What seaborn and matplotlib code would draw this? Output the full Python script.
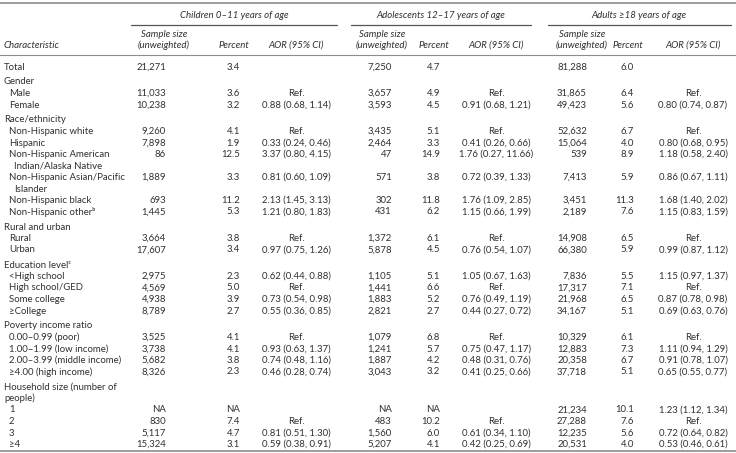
import matplotlib
matplotlib.use("Agg")
import matplotlib.pyplot as plt
import seaborn as sns

sns.set_theme(style="white")
plt.rcParams["font.family"] = ["Lato", "DejaVu Sans"]

groups = ["Children 0–11 years of age", "Adolescents 12–17 years of age", "Adults ≥18 years of age"]
col_heads = ["Sample size\n(unweighted)", "Percent", "AOR (95% CI)"]

labels = [
    "Total", "Gender", "Male", "Female", "Race/ethnicity", "Non-Hispanic white", "Hispanic",
    "Non-Hispanic American\nIndian/Alaska Native", "Non-Hispanic Asian/Pacific\nIslander",
    "Non-Hispanic black", "Non-Hispanic other\u1d47", "Rural and urban", "Rural", "Urban",
    "Education level\u1d9c", "<High school", "High school/GED", "Some college", "≥College",
    "Poverty income ratio", "0.00–0.99 (poor)", "1.00–1.99 (low income)",
    "2.00–3.99 (middle income)", "≥4.00 (high income)", "Household size (number of\npeople)",
    "1", "2", "3", "≥4",
]
levels = [0, 0, 1, 1, 0, 1, 1, 1, 1, 1, 1, 0, 1, 1, 0, 1, 1, 1, 1, 0, 1, 1, 1, 1, 0, 1, 1, 1, 1]

child_n = ["21,271", "", "11,033", "10,238", "", "9,260", "7,898", "86", "1,889", "693", "1,445", "",
           "3,664", "17,607", "", "2,975", "4,569", "4,938", "8,789", "", "3,525", "3,738", "5,682",
           "8,326", "", "NA", "830", "5,117", "15,324"]
child_pct = ["3.4", "", "3.6", "3.2", "", "4.1", "1.9", "12.5", "3.3", "11.2", "5.3", "", "3.8", "3.4",
             "", "2.3", "5.0", "3.9", "2.7", "", "4.1", "4.1", "3.8", "2.3", "", "NA", "7.4", "4.7", "3.1"]
child_aor = ["", "", "Ref.", "0.88 (0.68, 1.14)", "", "Ref.", "0.33 (0.24, 0.46)", "3.37 (0.80, 4.15)",
             "0.81 (0.60, 1.09)", "2.13 (1.45, 3.13)", "1.21 (0.80, 1.83)", "", "Ref.",
             "0.97 (0.75, 1.26)", "", "0.62 (0.44, 0.88)", "Ref.", "0.73 (0.54, 0.98)",
             "0.55 (0.36, 0.85)", "", "Ref.", "0.93 (0.63, 1.37)", "0.74 (0.48, 1.16)",
             "0.46 (0.28, 0.74)", "", "", "Ref.", "0.81 (0.51, 1.30)", "0.59 (0.38, 0.91)"]

adol_n = ["7,250", "", "3,657", "3,593", "", "3,435", "2,464", "47", "571", "302", "431", "", "1,372",
          "5,878", "", "1,105", "1,441", "1,883", "2,821", "", "1,079", "1,241", "1,887", "3,043", "",
          "NA", "483", "1,560", "5,207"]
adol_pct = ["4.7", "", "4.9", "4.5", "", "5.1", "3.3", "14.9", "3.8", "11.8", "6.2", "", "6.1", "4.5",
            "", "5.1", "6.6", "5.2", "2.7", "", "6.8", "5.7", "4.2", "3.2", "", "NA", "10.2", "6.0", "4.1"]
adol_aor = ["", "", "Ref.", "0.91 (0.68, 1.21)", "", "Ref.", "0.41 (0.26, 0.66)", "1.76 (0.27, 11.66)",
            "0.72 (0.39, 1.33)", "1.76 (1.09, 2.85)", "1.15 (0.66, 1.99)", "", "Ref.",
            "0.76 (0.54, 1.07)", "", "1.05 (0.67, 1.63)", "Ref.", "0.76 (0.49, 1.19)",
            "0.44 (0.27, 0.72)", "", "Ref.", "0.75 (0.47, 1.17)", "0.48 (0.31, 0.76)",
            "0.41 (0.25, 0.66)", "", "", "Ref.", "0.61 (0.34, 1.10)", "0.42 (0.25, 0.69)"]

adult_n = ["81,288", "", "31,865", "49,423", "", "52,632", "15,064", "539", "7,413", "3,451", "2,189", "",
           "14,908", "66,380", "", "7,836", "17,317", "21,968", "34,167", "", "10,329", "12,883",
           "20,358", "37,718", "", "21,234", "27,288", "12,235", "20,531"]
adult_pct = ["6.0", "", "6.4", "5.6", "", "6.7", "4.0", "8.9", "5.9", "11.3", "7.6", "", "6.5", "5.9",
             "", "5.5", "7.1", "6.5", "5.1", "", "6.1", "7.3", "6.7", "5.1", "", "10.1", "7.6", "5.6", "4.0"]
adult_aor = ["", "", "Ref.", "0.80 (0.74, 0.87)", "", "Ref.", "0.80 (0.68, 0.95)", "1.18 (0.58, 2.40)",
             "0.86 (0.67, 1.11)", "1.68 (1.40, 2.02)", "1.15 (0.83, 1.59)", "", "Ref.",
             "0.99 (0.87, 1.12)", "", "1.15 (0.97, 1.37)", "Ref.", "0.87 (0.78, 0.98)",
             "0.69 (0.63, 0.76)", "", "Ref.", "1.11 (0.94, 1.29)", "0.91 (0.78, 1.07)",
             "0.65 (0.55, 0.77)", "", "1.23 (1.12, 1.34)", "Ref.", "0.72 (0.64, 0.82)",
             "0.53 (0.46, 0.61)"]

W, H = 736, 453
fig = plt.figure(figsize=(W / 100, H / 100), dpi=100)
ax = fig.add_axes([0, 0, 1, 1])
ax.set_xlim(0, W)
ax.set_ylim(H, 0)
ax.axis("off")

TXT = "#303030"
LINE = "#8c8c8c"
FS = 6.9

# layout (pixels)
n_right = [166, 392, 587]
n_head = [164, 382, 582]
pct_right = [240, 440, 634]
aor_center = [296, 496, 693]
grp_center = [234, 441, 639]
grp_span = [(131, 337), (351, 531), (548, 731)]

# rules
ax.plot([0, W], [2.5, 2.5], color=LINE, lw=1.2)
ax.plot([0, W], [55, 55], color=LINE, lw=0.8)
ax.plot([0, W], [451, 451], color=LINE, lw=1.2)

for g in range(3):
    ax.text(grp_center[g], 15, groups[g], ha="center", va="center", fontsize=FS, style="italic", color=TXT)
    ax.plot(list(grp_span[g]), [25, 25], color="#555555", lw=0.9)
    ax.text(n_head[g], 40, col_heads[0], ha="center", va="center", fontsize=FS,
            style="italic", color=TXT, linespacing=1.2)
    ax.text(pct_right[g] - 6, 45, col_heads[1], ha="center", va="center", fontsize=FS, style="italic", color=TXT)
    ax.text(aor_center[g], 45, col_heads[2], ha="center", va="center", fontsize=FS, style="italic", color=TXT)
ax.text(4, 45, "Characteristic", ha="left", va="center", fontsize=FS, style="italic", color=TXT)

cols_n = [child_n, adol_n, adult_n]
cols_p = [child_pct, adol_pct, adult_pct]
cols_a = [child_aor, adol_aor, adult_aor]

y = 67.0
prev_lines = 1
for i, (lab, lev) in enumerate(zip(labels, levels)):
    if i > 0:
        y += 11.5 * prev_lines + (3.5 if lev == 0 else 0)
    parts = lab.split("\n")
    for k, part in enumerate(parts):
        if k == 0:
            x = 4 if lev == 0 else 9
        else:
            x = 4 if lev == 0 else 14
        ax.text(x, y + 11.5 * k, part, ha="left", va="center", fontsize=FS, color=TXT)
    for g in range(3):
        ax.text(n_right[g], y, cols_n[g][i], ha="right", va="center", fontsize=FS, color=TXT)
        ax.text(pct_right[g], y, cols_p[g][i], ha="right", va="center", fontsize=FS, color=TXT)
        ax.text(aor_center[g], y, cols_a[g][i], ha="center", va="center", fontsize=FS, color=TXT)
    prev_lines = len(parts)

fig.savefig("out.png", dpi=100)
